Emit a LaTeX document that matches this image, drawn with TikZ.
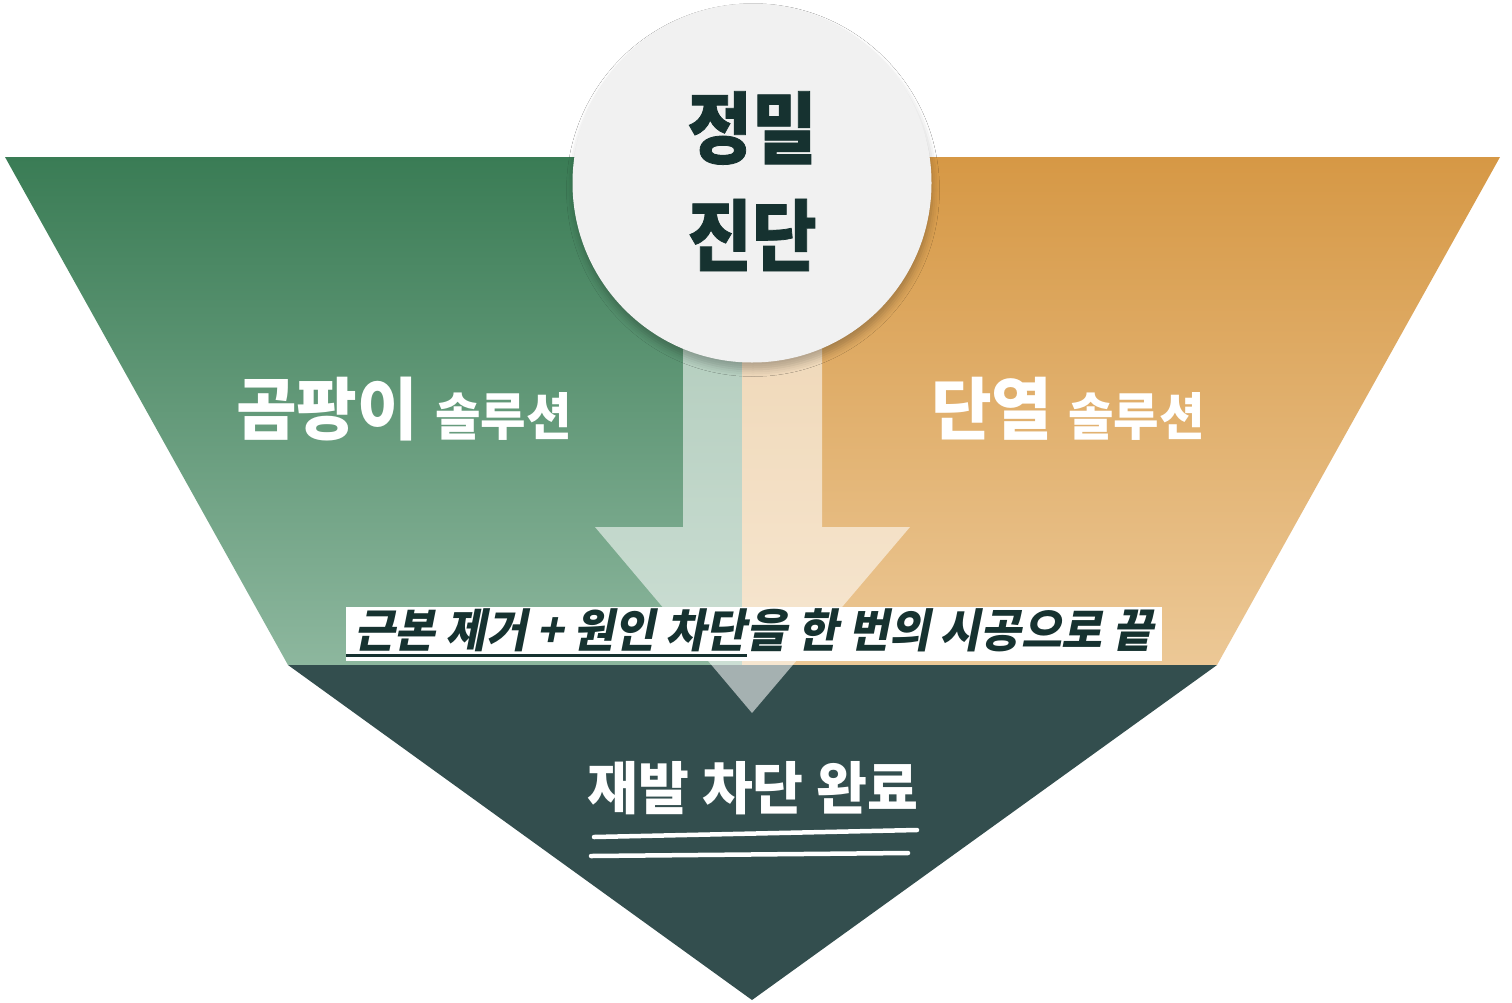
\documentclass[tikz,border=0pt]{standalone}
\usepackage{fontspec}
\usetikzlibrary{shadows.blur}
\newfontfamily\kr[FakeStretch=0.9]{Noto Sans CJK KR}
\newfontfamily\krh[FakeStretch=0.9,FakeBold=1]{Noto Sans CJK KR}
\newfontfamily\krw[FakeStretch=0.97]{Noto Sans CJK KR}
\newfontfamily\krit[FakeStretch=0.96,FakeSlant=0.2]{Noto Sans CJK KR}
\definecolor{gA}{HTML}{3A7C55}
\definecolor{gB}{HTML}{8DB79E}
\definecolor{oA}{HTML}{D69845}
\definecolor{oB}{HTML}{ECC896}
\definecolor{darkteal}{HTML}{334E4E}
\definecolor{circfill}{HTML}{F1F1F1}
\definecolor{tdark}{HTML}{163230}
\begin{document}
\begin{tikzpicture}[x=1pt,y=-1pt,
  ktext/.style={inner sep=0pt},
  bigtitle/.style={ktext, text=tdark, font=\krh\bfseries\fontsize{78}{80}\selectfont},
  sidehead/.style={ktext, text=white, anchor=south west, font=\krw\bfseries\fontsize{68}{70}\selectfont},
  sidesub/.style={ktext, text=white, anchor=south west, font=\krw\bfseries\fontsize{51}{54}\selectfont},
  slogan/.style={ktext, text=tdark, font=\krit\bfseries\fontsize{46}{48}\selectfont},
  result/.style={ktext, text=white, font=\krw\bfseries\fontsize{57}{60}\selectfont},
  brush/.style={white, line width=4.5pt, line cap=round}
]
\useasboundingbox (0,0) rectangle (1512,1002);
\fill[white] (0,0) rectangle (1512,1002);
% side trapezoids
\path[top color=gA, bottom color=gB] (5,157) -- (742,157) -- (742,665) -- (288,665) -- cycle;
\path[top color=oA, bottom color=oB] (742,157) -- (1500,157) -- (1217,665) -- (742,665) -- cycle;
% bottom triangle
\fill[darkteal] (288,665) -- (1217,665) -- (752,1000) -- cycle;
% arrow
\fill[white, opacity=0.56] (683,330) -- (683,527) -- (595,527) -- (752,713) -- (910,527) -- (822,527) -- (822,330) -- cycle;
% circle
\node[circle, minimum size=359pt, inner sep=0pt, fill=circfill,
  blur shadow={shadow xshift=1pt, shadow yshift=-7pt, shadow blur radius=7pt, shadow opacity=25}] (diag) at (752,183) {};
\node[bigtitle] (diagA) at (752,128) {정밀};
\node[bigtitle] (diagB) at (752,235) {진단};
% side labels
\node[sidehead] (mold) at (236,441) {곰팡이};
\node[sidesub] (moldsol) at (435,441) {솔루션};
\node[sidehead] (ins) at (931,441) {단열};
\node[sidesub] (inssol) at (1068,441) {솔루션};
% slogan band
\node[fill=white, inner sep=0pt, minimum width=816pt, minimum height=54pt, anchor=north west] (band) at (346,607) {};
\node[slogan, anchor=south west] (sA) at (354,652) {근본 제거 + 원인 차단};
\node[slogan, anchor=base west] (sB) at (sA.base east) {을 한 번의 시공으로 끝};
\fill[tdark] (346,654) rectangle ([yshift=-4.5pt]sA.south east);
% result
\node[result] (done) at (753,788) {재발 차단 완료};
\draw[brush] (594,837) -- (917,830);
\draw[brush] (591,856) -- (908,853);
\end{tikzpicture}
\end{document}
